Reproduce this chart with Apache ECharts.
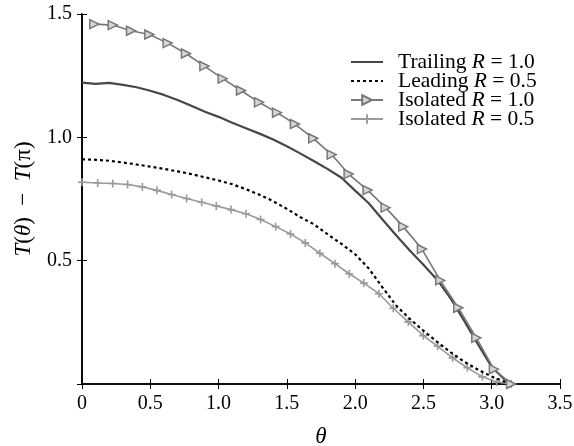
<!DOCTYPE html>
<html>
<head>
<meta charset="utf-8">
<script src="https://cdn.jsdelivr.net/npm/echarts@6/dist/echarts.min.js"></script>
<style>
html,body{margin:0;padding:0;background:#fff;}
#chart{width:574px;height:446px;}
</style>
</head>
<body>
<div id="chart"></div>
<script>
// ---- data ----
const xTickLabels = ['0', '0.5', '1.0', '1.5', '2.0', '2.5', '3.0', '3.5'];
const yTickLabels = ['0', '0.5', '1.0', '1.5'];

const trailingX = [0, 0.1, 0.2, 0.3, 0.4, 0.5, 0.6, 0.7, 0.8, 0.9, 1.0, 1.1, 1.2, 1.3, 1.4, 1.5, 1.6, 1.7, 1.8, 1.9, 2.0, 2.1, 2.2, 2.3, 2.4, 2.5, 2.6, 2.7, 2.8, 2.9, 3.0, 3.1, 3.1416];
const trailingY = [1.222, 1.217, 1.221, 1.213, 1.203, 1.189, 1.172, 1.151, 1.128, 1.104, 1.083, 1.059, 1.037, 1.015, 0.991, 0.964, 0.934, 0.903, 0.871, 0.836, 0.784, 0.733, 0.667, 0.603, 0.541, 0.483, 0.423, 0.346, 0.255, 0.160, 0.069, 0.015, 0];

const leadingX = [0, 0.1, 0.2, 0.3, 0.4, 0.5, 0.6, 0.7, 0.8, 0.9, 1.0, 1.1, 1.2, 1.3, 1.4, 1.5, 1.6, 1.7, 1.8, 1.9, 2.0, 2.1, 2.2, 2.3, 2.4, 2.5, 2.6, 2.7, 2.8, 2.9, 3.0, 3.1, 3.1416];
const leadingY = [0.911, 0.909, 0.905, 0.898, 0.890, 0.881, 0.872, 0.862, 0.851, 0.838, 0.825, 0.810, 0.790, 0.767, 0.741, 0.710, 0.676, 0.647, 0.606, 0.568, 0.526, 0.468, 0.392, 0.318, 0.264, 0.216, 0.171, 0.128, 0.090, 0.058, 0.030, 0.008, 0];

const iso10X = [0.09, 0.225, 0.359, 0.493, 0.627, 0.761, 0.896, 1.03, 1.164, 1.296, 1.428, 1.559, 1.693, 1.828, 1.952, 2.091, 2.223, 2.352, 2.489, 2.623, 2.755, 2.887, 3.016, 3.142];
const iso10Y = [1.459, 1.455, 1.432, 1.417, 1.382, 1.340, 1.289, 1.238, 1.190, 1.142, 1.100, 1.054, 0.996, 0.930, 0.851, 0.786, 0.715, 0.638, 0.547, 0.420, 0.309, 0.187, 0.060, 0];

const iso05X = [0, 0.115, 0.225, 0.334, 0.442, 0.549, 0.656, 0.766, 0.876, 0.983, 1.091, 1.201, 1.308, 1.418, 1.527, 1.635, 1.742, 1.852, 1.957, 2.064, 2.174, 2.279, 2.389, 2.499, 2.604, 2.714, 2.821, 2.931, 3.036, 3.142];
const iso05Y = [0.818, 0.815, 0.813, 0.809, 0.799, 0.785, 0.768, 0.752, 0.737, 0.722, 0.707, 0.690, 0.667, 0.638, 0.608, 0.572, 0.530, 0.488, 0.447, 0.409, 0.366, 0.307, 0.252, 0.196, 0.153, 0.106, 0.066, 0.029, 0.008, 0];

const seriesNames = ['Trailing R = 1.0', 'Leading R = 0.5', 'Isolated R = 1.0', 'Isolated R = 0.5'];
const legendLabels = ['Trailing {i|R} = 1.0', 'Leading {i|R} = 0.5', 'Isolated {i|R} = 1.0', 'Isolated {i|R} = 0.5'];

// ---- chart ----
const FONT = "'Liberation Serif', 'Times New Roman', serif";
const zip = (xs, ys) => xs.map((x, i) => [x, ys[i]]);
const plusPath = 'path://M4,0H6V4H10V6H6V10H4V6H0V4H4Z';
const hidden = { color: 'rgba(0,0,0,0)', borderColor: 'rgba(0,0,0,0)', borderWidth: 0, opacity: 0 };

const axisCommon = {
  type: 'value', min: 0,
  axisLine: { show: true, lineStyle: { color: '#000', width: 1.6 } },
  axisTick: { show: true, inside: true, length: 5, lineStyle: { color: '#000', width: 1 } },
  splitLine: { show: false }
};

const chart = echarts.init(document.getElementById('chart'), null, { renderer: 'canvas' });
chart.setOption({
  animation: false,
  backgroundColor: '#fff',
  grid: { left: 82, right: 14, top: 14, bottom: 62, containLabel: false, outerBoundsMode: 'none' },
  xAxis: [
    Object.assign({}, axisCommon, {
      max: 3.5, interval: 0.5, position: 'bottom',
      axisLabel: { show: true, margin: 10, color: '#000', fontFamily: FONT, fontSize: 20,
        formatter: (v) => xTickLabels[Math.round(v / 0.5)] },
      name: '{i|θ}', nameLocation: 'middle', nameGap: 41,
      nameTextStyle: { fontFamily: FONT, fontSize: 23, color: '#000',
        rich: { i: { fontStyle: 'italic', fontFamily: FONT, fontSize: 23, color: '#000' } } }
    }),
    Object.assign({}, axisCommon, {
      max: 3.5, interval: 0.5, position: 'top', axisLabel: { show: false }
    })
  ],
  yAxis: [
    Object.assign({}, axisCommon, {
      max: 1.5, interval: 0.5, position: 'left',
      axisLabel: { show: true, margin: 10, showMinLabel: false, color: '#000', fontFamily: FONT, fontSize: 20,
        formatter: (v) => yTickLabels[Math.round(v / 0.5)] },
      name: '{i|T}({i|θ})\u2002\u2212\u2002{i|T}(π)', nameLocation: 'middle', nameGap: 47,
      nameTextStyle: { fontFamily: FONT, fontSize: 23, color: '#000',
        rich: { i: { fontStyle: 'italic', fontFamily: FONT, fontSize: 23, color: '#000' } } }
    }),
    Object.assign({}, axisCommon, {
      max: 1.5, interval: 0.5, position: 'right', axisLabel: { show: false }
    })
  ],
  legend: {
    orient: 'vertical', left: 350, top: 51, padding: 0, itemWidth: 32, itemHeight: 12, itemGap: -3,
    data: [
      { name: seriesNames[0], itemStyle: hidden },
      { name: seriesNames[1], itemStyle: hidden },
      { name: seriesNames[2] },
      { name: seriesNames[3] }
    ],
    formatter: (name) => legendLabels[seriesNames.indexOf(name)],
    textStyle: { fontFamily: FONT, fontSize: 21.5, color: '#000', lineHeight: 20, padding: [0, 0, 0, 10],
      rich: { i: { fontStyle: 'italic', fontFamily: FONT, fontSize: 21.5, color: '#000', lineHeight: 20 } } }
  },
  series: [
    { name: seriesNames[0], type: 'line', xAxisIndex: 0, yAxisIndex: 0, data: zip(trailingX, trailingY),
      symbol: 'none', lineStyle: { color: '#474747', width: 2.2 }, itemStyle: { color: '#474747' }, z: 3 },
    { name: seriesNames[1], type: 'line', xAxisIndex: 0, yAxisIndex: 0, data: zip(leadingX, leadingY),
      symbol: 'none', lineStyle: { color: '#000', width: 2.2, type: [3, 3] }, itemStyle: { color: '#000' }, z: 2 },
    { name: seriesNames[2], type: 'line', xAxisIndex: 0, yAxisIndex: 0, data: zip(iso10X, iso10Y),
      symbol: 'triangle', symbolSize: 9, symbolRotate: -90, showAllSymbol: true,
      lineStyle: { color: '#777', width: 1.6 },
      itemStyle: { color: '#d6d6d6', borderColor: '#777', borderWidth: 1.5 }, z: 4 },
    { name: seriesNames[3], type: 'line', xAxisIndex: 0, yAxisIndex: 0, data: zip(iso05X, iso05Y),
      symbol: plusPath, symbolSize: 8, showAllSymbol: true,
      lineStyle: { color: '#9a9a9a', width: 1.6 },
      itemStyle: { color: '#9a9a9a' }, z: 1 }
  ]
});
</script>
</body>
</html>
